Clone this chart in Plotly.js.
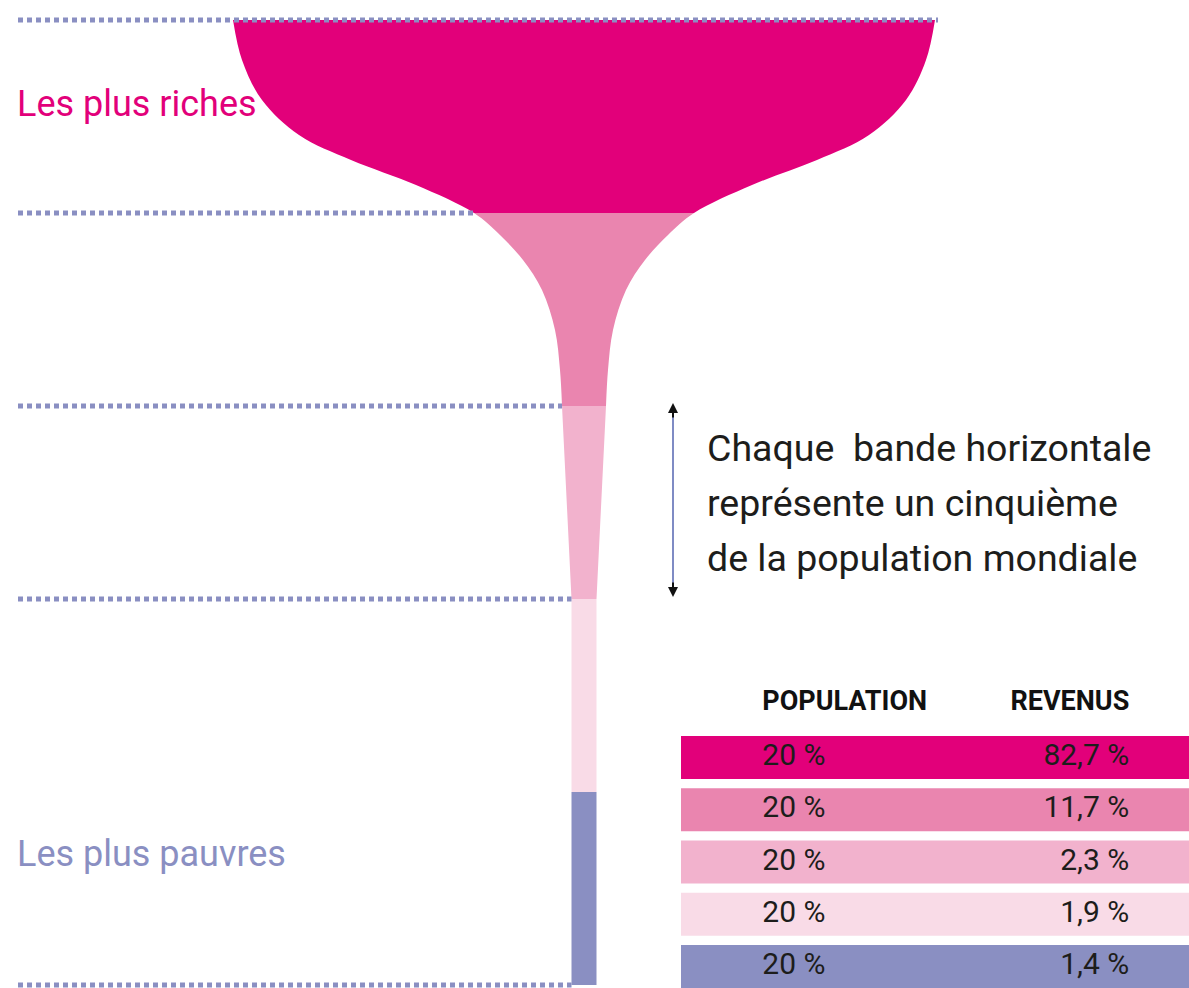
<!DOCTYPE html>
<html><head><meta charset="utf-8">
<script src="https://cdn.plot.ly/plotly-3.0.1.min.js"></script>
<style>html,body{margin:0;padding:0;background:#fff}#chart{width:1189px;height:988px}</style>
</head><body><div id="chart"></div>
<script>
// ---- données ----
const quintiles = ['Les plus riches', 'Deuxième cinquième', 'Troisième cinquième', 'Quatrième cinquième', 'Les plus pauvres'];
const population = [20, 20, 20, 20, 20];
const revenus = [82.7, 11.7, 2.3, 1.9, 1.4];
const enTetes = ['POPULATION', 'REVENUS'];
const legende = ['Chaque\u00a0 bande horizontale', 'représente un cinquième', 'de la population mondiale'];
// contour de la coupe : population cumulée (depuis le bas) et demi-largeur
const profilCoupePopulation = [100, 95.85, 91.71, 88.08, 85.49, 82.90, 80, 77.72, 75.13, 72.02, 67.88, 63.73, 60];
const profilCoupeDemiLargeur = [351, 342, 322, 285, 233, 168, 110, 84, 61, 42, 29, 24, 22];
const profilPiedPopulation = [60, 40, 0];
const profilPiedDemiLargeur = [22, 12.5, 12.5];

// ---- mise en page / styles ----
const couleurs = ['#e2007a', '#ea85af', '#f2b2cd', '#f9dbe7', '#8a8fc2'];
const couleurPointilles = '#8a8fc2';
const police = 'Roboto, "Liberation Sans", sans-serif';
const H = 988, BASE = 985, ECHELLE = 9.65;
const uDePx = px => (BASE - px) / ECHELLE;
const pxDeU = u => BASE - ECHELLE * u;

const limites = [100];
let cumul = 100;
population.forEach(p => { cumul -= p; limites.push(cumul); });

const layout = {
  width: 1189, height: H,
  margin: {l: 0, r: 0, t: 0, b: 0},
  paper_bgcolor: '#fff', plot_bgcolor: 'rgba(0,0,0,0)',
  font: {family: police},
  showlegend: false,
  xaxis: {range: [-584, 605], visible: false, fixedrange: true, anchor: 'y'},
  yaxis: {range: [uDePx(H), uDePx(0)], visible: false, fixedrange: true, anchor: 'x'},
  xaxis2: {domain: [681 / 1189, 1], range: [0, 20], anchor: 'y2', visible: false, fixedrange: true},
  yaxis2: {domain: [0, 1], range: [4.411, -14.498], anchor: 'x2', visible: false, fixedrange: true},
  shapes: [],
  annotations: []
};

const traces = [];
const parties = [
  [profilCoupePopulation, profilCoupeDemiLargeur, 'spline'],
  [profilPiedPopulation, profilPiedDemiLargeur, 'linear']
];
// chaque bande : le contour complet de la coupe, découpé par une sous-grille couvrant la bande
population.forEach((p, i) => {
  const uHaut = limites[i], uBas = limites[i + 1];
  const r0 = i === population.length - 1 ? uDePx(H) : uBas;
  const r1 = i === 0 ? uDePx(0) : uHaut;
  const n = i + 3;
  layout['yaxis' + n] = {domain: [(H - pxDeU(r0)) / H, (H - pxDeU(r1)) / H], range: [r0, r1],
    anchor: 'x', visible: false, fixedrange: true};
  parties.forEach(([pu, pw, forme]) => {
    traces.push({type: 'scatter', mode: 'lines', x: pw, y: pu, yaxis: 'y' + n,
      line: {width: 0, shape: forme, smoothing: 1, color: couleurs[i]}, hoverinfo: 'skip', showlegend: false});
    traces.push({type: 'scatter', mode: 'lines', x: pw.map(v => -v), y: pu, yaxis: 'y' + n,
      fill: 'tonextx', fillcolor: couleurs[i], name: quintiles[i],
      line: {width: 0, shape: forme, smoothing: 1, color: couleurs[i]}, hoverinfo: 'skip', showlegend: false});
  });
});

// lignes pointillées aux limites des bandes
const demiLargeurA = u => {
  const pu = u >= 60 ? profilCoupePopulation : profilPiedPopulation;
  const pw = u >= 60 ? profilCoupeDemiLargeur : profilPiedDemiLargeur;
  return pw[pu.findIndex(v => Math.abs(v - u) < 1e-9)];
};
limites.forEach((u, j) => {
  const hw = demiLargeurA(u);
  layout.shapes.push({type: 'line', layer: 'above', xref: 'x', yref: 'y', x0: -566, x1: j === 0 ? hw + 3 : -hw, y0: u, y1: u,
    line: {color: couleurPointilles, width: 5, dash: '5px,4px'}});
});

// flèche double
layout.shapes.push({type: 'line', layer: 'above', xref: 'x', yref: 'y', x0: 89, x1: 89, y0: uDePx(408), y1: uDePx(592),
  line: {color: '#5565b0', width: 1.5}});
layout.annotations.push(
  {xref: 'x', yref: 'y', x: 89, y: uDePx(403), ax: 0, ay: 16, text: '', showarrow: true,
    arrowhead: 2, arrowsize: 1, arrowwidth: 2, arrowcolor: '#111'},
  {xref: 'x', yref: 'y', x: 89, y: uDePx(597), ax: 0, ay: -16, text: '', showarrow: true,
    arrowhead: 2, arrowsize: 1, arrowwidth: 2, arrowcolor: '#111'}
);

// étiquettes
layout.annotations.push(
  {xref: 'x', yref: 'y', x: -569, y: uDePx(104), xanchor: 'left', yanchor: 'middle', showarrow: false,
    text: quintiles[0], font: {family: police, size: 36, color: '#e2007a'}},
  {xref: 'x', yref: 'y', x: -569, y: uDePx(854), xanchor: 'left', yanchor: 'middle', showarrow: false,
    text: quintiles[4], font: {family: police, size: 36, color: '#8a8fc2'}}
);
legende.forEach((t, k) => {
  layout.annotations.push({xref: 'x', yref: 'y', x: 121, y: uDePx(448 + 55 * k), xanchor: 'left', yanchor: 'middle',
    showarrow: false, text: t, font: {family: police, size: 37.5, color: '#1d1d1b'}});
});

// tableau
const lignes = population.map((_, i) => i);
traces.push({type: 'bar', orientation: 'h', x: population, y: lignes, base: 0, width: 0.82,
  marker: {color: couleurs, line: {width: 0}}, xaxis: 'x2', yaxis: 'y2', hoverinfo: 'skip', showlegend: false});
traces.push({type: 'scatter', mode: 'text', x: lignes.map(() => 3.2), y: lignes,
  text: population.map(v => v + ' %'), textposition: 'middle right',
  textfont: {family: police, size: 30, color: '#1d1d1b'}, xaxis: 'x2', yaxis: 'y2', hoverinfo: 'skip', showlegend: false});
traces.push({type: 'scatter', mode: 'text', x: lignes.map(() => 17.65), y: lignes,
  text: revenus.map(v => v.toFixed(1).replace('.', ',') + ' %'), textposition: 'middle left',
  textfont: {family: police, size: 30, color: '#1d1d1b'}, xaxis: 'x2', yaxis: 'y2', hoverinfo: 'skip', showlegend: false});
traces.push({type: 'scatter', mode: 'text', x: [3.2, 17.65], y: [-1.04, -1.04],
  text: enTetes, textposition: ['middle right', 'middle left'],
  textfont: {family: police, size: 27, color: '#111', weight: 700}, xaxis: 'x2', yaxis: 'y2', hoverinfo: 'skip', showlegend: false});

Plotly.newPlot('chart', traces, layout, {staticPlot: true, displayModeBar: false});
</script>
</body></html>
